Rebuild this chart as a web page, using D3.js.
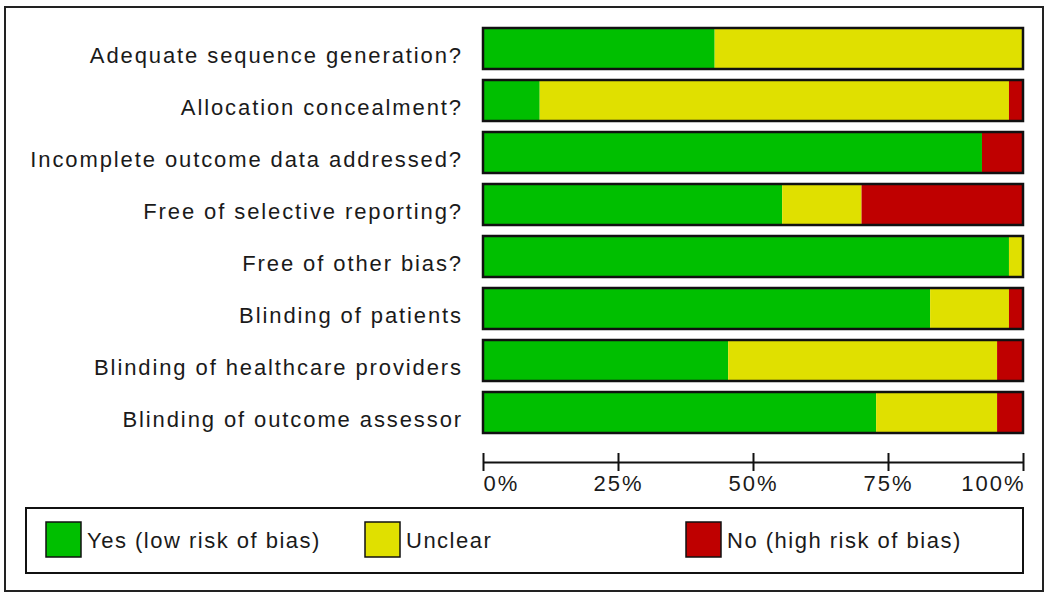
<!DOCTYPE html>
<html>
<head>
<meta charset="utf-8">
<script src="https://cdn.jsdelivr.net/npm/d3@7"></script>
<style>
  body { margin: 0; background: #fff; }
  text { font-family: "Liberation Sans", Arial, sans-serif; fill: #1a1a1a; }
</style>
</head>
<body>
<div id="chart"></div>
<script>
// risk of bias domains (top to bottom)
const domains = [
  "Adequate sequence generation?",
  "Allocation concealment?",
  "Incomplete outcome data addressed?",
  "Free of selective reporting?",
  "Free of other bias?",
  "Blinding of patients",
  "Blinding of healthcare providers",
  "Blinding of outcome assessor"
]
// percent of studies per judgement
const yesPct     = [42.9, 10.5, 92.4, 55.4, 97.4, 82.8, 45.4, 72.8]
const unclearPct = [57.1, 86.9,  0.0, 14.7,  2.6, 14.6, 49.8, 22.4]
const noPct      = [ 0.0,  2.6,  7.6, 29.9,  0.0,  2.6,  4.8,  4.8]
const ticks = [0, 25, 50, 75, 100]
const legendLabels = ["Yes (low risk of bias)", "Unclear", "No (high risk of bias)"]
const colors = ["#00bf00", "#e0e000", "#bf0000"]

const width = 1050, height = 600

const svg = d3.select("#chart")
  .append("svg")
    .attr("width", width)
    .attr("height", height)

// outer frame
svg.append("rect")
  .attr("x", 5).attr("y", 7)
  .attr("width", 1038).attr("height", 584)
  .attr("fill", "none")
  .attr("stroke", "#222")
  .attr("stroke-width", 2)

const x = d3.scaleLinear().domain([0, 100]).range([483, 1023])
const y = d3.scaleBand().domain(domains).range([28, 433]).paddingInner(11 / 52)

const rows = domains.map((d, i) => {
  const vals = [yesPct[i], unclearPct[i], noPct[i]]
  let start = 0
  const segs = vals.map((v, k) => {
    const s = {x0: start, x1: start + v, k: k}
    start += v
    return s
  })
  return {name: d, segs: segs}
})

const row = svg.selectAll(".row")
  .data(rows)
  .join("g")
    .attr("class", "row")
    .attr("transform", d => `translate(0,${y(d.name)})`)

row.selectAll(".seg")
  .data(d => d.segs.filter(s => s.x1 > s.x0))
  .join("rect")
    .attr("class", "seg")
    .attr("x", s => x(s.x0))
    .attr("width", s => x(s.x1) - x(s.x0))
    .attr("height", y.bandwidth())
    .attr("fill", s => colors[s.k])

// bar outline
row.append("rect")
  .attr("x", x(0))
  .attr("width", x(100) - x(0))
  .attr("height", y.bandwidth())
  .attr("fill", "none")
  .attr("stroke", "#111")
  .attr("stroke-width", 2.5)

// labels on the left
row.append("text")
  .attr("x", 463)
  .attr("y", y.bandwidth() / 2 + 14)
  .attr("text-anchor", "end")
  .style("font-size", "22px")
  .style("letter-spacing", "1.9px")
  .text(d => d.name)

// x axis
const axis = svg.append("g")
  .attr("transform", "translate(0,462)")
  .call(d3.axisBottom(x).tickValues(ticks).tickFormat(d => d + "%").tickSizeOuter(0))

axis.select(".domain").attr("stroke", "#111").attr("stroke-width", 2)
axis.selectAll(".tick line")
  .attr("y1", -9).attr("y2", 9)
  .attr("stroke", "#111").attr("stroke-width", 2)
axis.selectAll(".tick text")
  .attr("y", 29)
  .attr("dy", 0)
  .style("font-family", "\"Liberation Sans\", Arial, sans-serif")
  .style("font-size", "22px")
  .style("letter-spacing", "2px")
  .attr("fill", "#1a1a1a")
  .attr("x", (d, i) => i == ticks.length - 1 ? 2 : 0)
  .attr("text-anchor", (d, i) => i == 0 ? "start" : (i == ticks.length - 1 ? "end" : "middle"))

// legend
svg.append("rect")
  .attr("x", 26).attr("y", 508)
  .attr("width", 997).attr("height", 65)
  .attr("fill", "none")
  .attr("stroke", "#111")
  .attr("stroke-width", 2)

const legendX = [46, 365, 686]
const item = svg.selectAll(".legend")
  .data(legendLabels)
  .join("g")
    .attr("class", "legend")
    .attr("transform", (d, i) => `translate(${legendX[i]},522)`)

item.append("rect")
  .attr("width", 35).attr("height", 35)
  .attr("fill", (d, i) => colors[i])
  .attr("stroke", "#111")
  .attr("stroke-width", 1.5)

item.append("text")
  .attr("x", 41)
  .attr("y", 26)
  .style("font-size", "22px")
  .style("letter-spacing", "1.5px")
  .text(d => d)
</script>
</body>
</html>
